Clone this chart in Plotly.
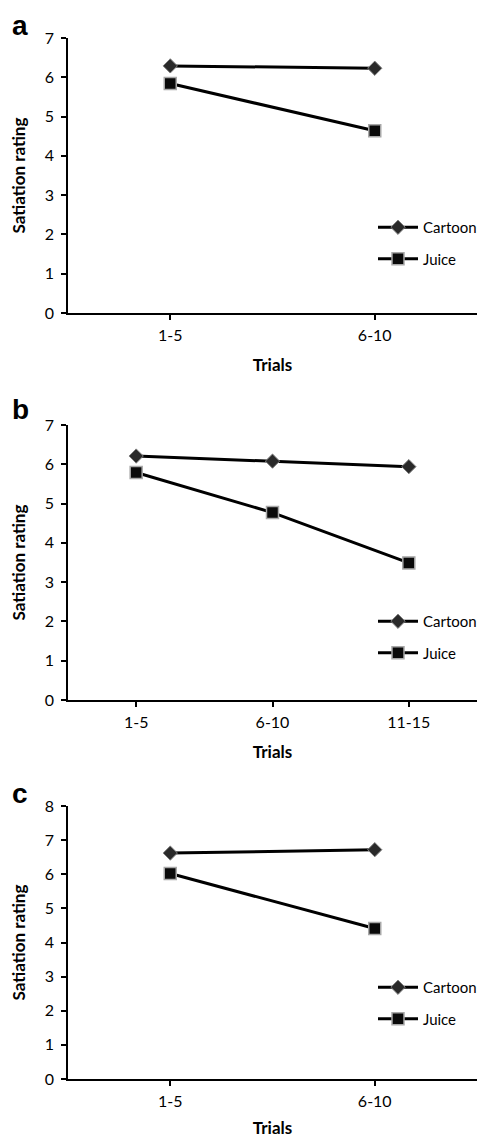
import plotly.graph_objects as go
from plotly.subplots import make_subplots

# ---- data ----
trials_a = ["1-5", "6-10"]
cartoon_a = [6.29, 6.23]
juice_a = [5.84, 4.64]

trials_b = ["1-5", "6-10", "11-15"]
cartoon_b = [6.21, 6.08, 5.94]
juice_b = [5.79, 4.77, 3.49]

trials_c = ["1-5", "6-10"]
cartoon_c = [6.62, 6.72]
juice_c = [6.02, 4.41]

yticks_ab = [0, 1, 2, 3, 4, 5, 6, 7]
yticks_c = [0, 1, 2, 3, 4, 5, 6, 7, 8]
panel_labels = ["a", "b", "c"]
series_names = ["Cartoon", "Juice"]

W, H = 477, 1138
FONT = "Lato"

fig = make_subplots(rows=3, cols=1)

panels = [
    (trials_a, cartoon_a, juice_a, yticks_ab, "legend"),
    (trials_b, cartoon_b, juice_b, yticks_ab, "legend2"),
    (trials_c, cartoon_c, juice_c, yticks_c, "legend3"),
]

# plot area pixel boxes (top, bottom)
boxes = [(38, 313), (425, 700), (806, 1079)]
legend_tops = [211, 605, 971]
label_y = [25, 410, 793]

for i, (cats, cart, juic, yt, lg) in enumerate(panels):
    r = i + 1
    fig.add_trace(go.Scatter(
        x=cats, y=cart, name=series_names[0], mode="lines+markers",
        line=dict(color="black", width=3),
        marker=dict(symbol="diamond", size=11, color="#2a2a2a",
                    line=dict(color="#808080", width=1)),
        legend=lg, legendgroup=f"c{r}"), row=r, col=1)
    fig.add_trace(go.Scatter(
        x=cats, y=juic, name=series_names[1], mode="lines+markers",
        line=dict(color="black", width=3),
        marker=dict(symbol="square", size=12, color="#0a0a0a",
                    line=dict(color="#a8a8a8", width=1.5)),
        legend=lg, legendgroup=f"j{r}"), row=r, col=1)

    top, bot = boxes[i]
    fig.update_yaxes(
        domain=[1 - bot / H, 1 - top / H], automargin=False,
        range=[0, yt[-1]], tickvals=yt, showgrid=False, zeroline=False,
        showline=True, linecolor="black", linewidth=1.5,
        ticks="outside", ticklen=5, tickcolor="black", tickwidth=1.5,
        ticklabelstandoff=4,
        tickfont=dict(family=FONT, size=16, color="black"),
        title=dict(text="<b>Satiation rating</b>", standoff=15,
                   font=dict(family=FONT, size=17, color="black")),
        row=r, col=1)
    fig.update_xaxes(
        domain=[68 / W, 1], automargin=False,
        type="category", range=[-0.5, len(cats) - 0.5],
        showgrid=False, zeroline=False,
        showline=True, linecolor="black", linewidth=1.5,
        ticks="outside", ticklen=5, tickcolor="black", tickwidth=1.5,
        ticklabelstandoff=2,
        tickfont=dict(family=FONT, size=16, color="black"),
        title=dict(text="<b>Trials</b>", standoff=16,
                   font=dict(family=FONT, size=17, color="black")),
        row=r, col=1)

    fig.add_annotation(
        text=f"<b>{panel_labels[i]}</b>", xref="paper", yref="paper",
        x=20 / W, y=1 - label_y[i] / H, xanchor="center", yanchor="middle",
        showarrow=False, font=dict(family="Liberation Sans", size=28, color="black"))

legend_common = dict(
    xanchor="left", yanchor="top", bgcolor="rgba(0,0,0,0)",
    font=dict(family=FONT, size=15, color="black"),
    tracegroupgap=9, itemwidth=40,
)
fig.update_layout(
    legend=dict(x=373 / W, y=1 - legend_tops[0] / H, **legend_common),
    legend2=dict(x=373 / W, y=1 - legend_tops[1] / H, **legend_common),
    legend3=dict(x=373 / W, y=1 - legend_tops[2] / H, **legend_common),
)

fig.update_layout(
    width=W, height=H, margin=dict(l=0, r=0, t=0, b=0, autoexpand=False),
    paper_bgcolor="white", plot_bgcolor="white", showlegend=True,
)

fig.write_html(
    "out.html",
    config={"displayModeBar": False},
    post_script="document.body.style.margin='0';document.body.style.overflow='hidden';",
)
